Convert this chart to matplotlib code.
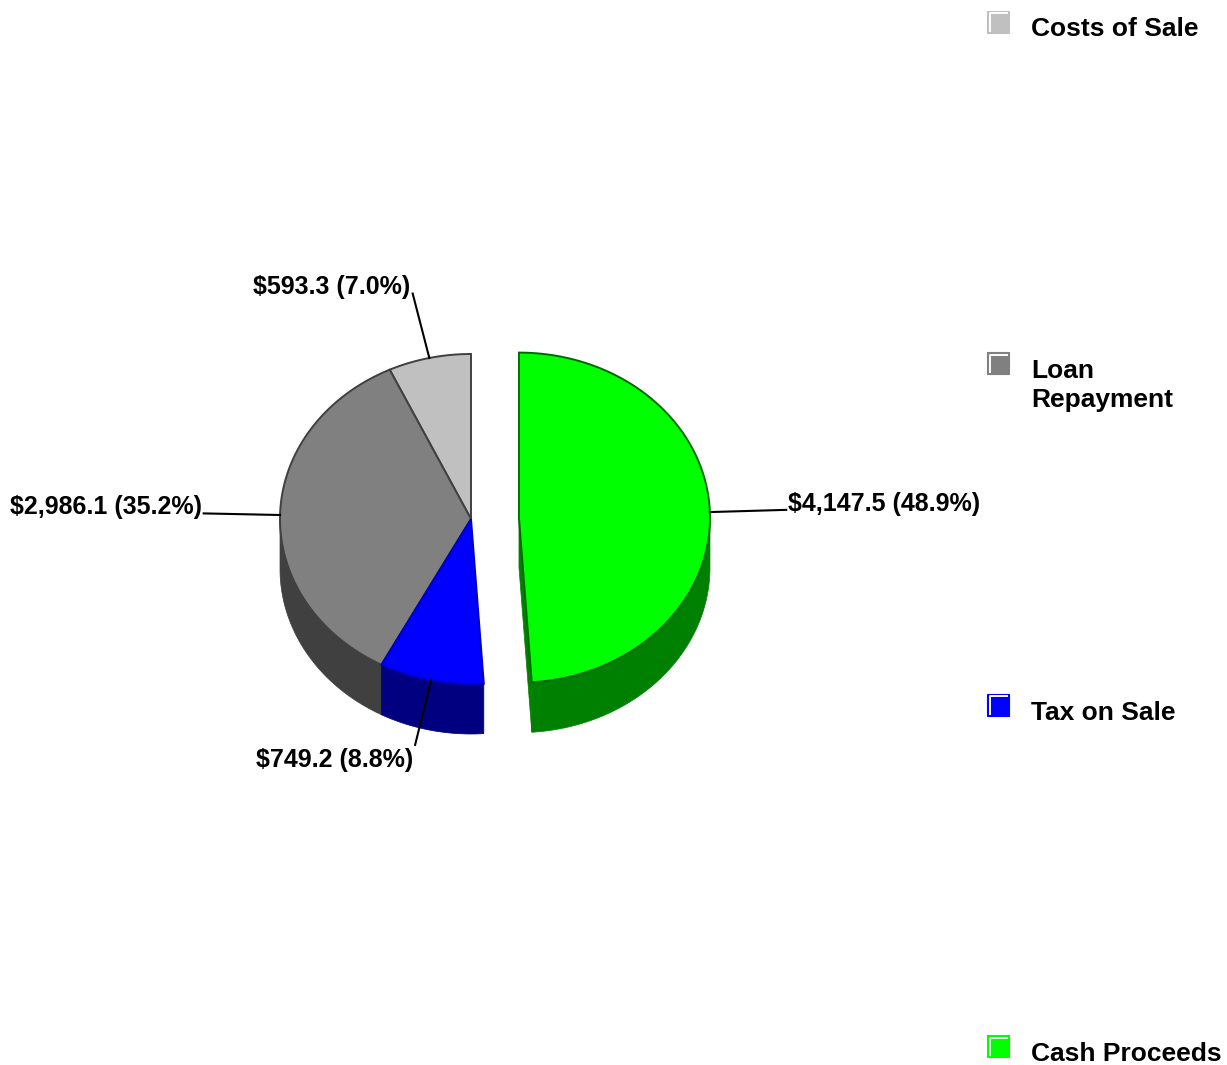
import numpy as np
import matplotlib.pyplot as plt
from matplotlib.patches import Polygon, Rectangle

plt.rcParams['font.family'] = ['Liberation Sans', 'DejaVu Sans']

# slices in legend order, drawn counter-clockwise from 12 o'clock
categories = ["Costs of Sale", "Loan\nRepayment", "Tax on Sale", "Cash Proceeds"]
values = [593.3, 2986.1, 749.2, 4147.5]
top_colors = ["#c0c0c0", "#808080", "#0000ff", "#00ff00"]
side_colors = ["#606060", "#404040", "#000080", "#008000"]
edge_colors = ["#404040", "#404040", "#0000c0", "#006a00"]
explode = [0, 0, 0, 48]

# pie geometry in pixels
cx, cy = 471, 519
rx, ry = 191, 165
depth = 50

total = sum(values)
fracs = [v / total for v in values]

fig = plt.figure(figsize=(12.27, 10.65), dpi=100)
ax = fig.add_axes([0, 0, 1, 1])
ax.set_xlim(0, 1227)
ax.set_ylim(1065, 0)
ax.axis("off")


def pt(x0, y0, a, r=1.0):
    return x0 + r * rx * np.cos(a), y0 - r * ry * np.sin(a)


slices = []
start = 90.0
for i, f in enumerate(fracs):
    end = start + 360 * f
    mid = np.radians((start + end) / 2)
    ox = cx + explode[i] * np.cos(mid)
    oy = cy - explode[i] * (ry / rx) * np.sin(mid)
    slices.append((np.radians(start), np.radians(end), mid, ox, oy))
    start = end

# cut faces of the slices (only the ones facing the viewer)
for i, (a0, a1, mid, ox, oy) in enumerate(slices):
    for a, normal in ((a0, a0 - np.pi / 2), (a1, a1 + np.pi / 2)):
        if np.sin(normal) >= -0.01:
            continue
        ex, ey = pt(ox, oy, a)
        face = [(ox, oy), (ex, ey), (ex, ey + depth), (ox, oy + depth)]
        ax.add_patch(Polygon(face, closed=True, facecolor=side_colors[i],
                             edgecolor=side_colors[i], lw=0.5, zorder=1))

# outer walls on the front half
for i, (a0, a1, mid, ox, oy) in enumerate(slices):
    for lo, hi in ((np.pi, 2 * np.pi), (3 * np.pi, 4 * np.pi)):
        s, e = max(a0, lo), min(a1, hi)
        if e <= s:
            continue
        t = np.linspace(s, e, 120)
        xs, ys = pt(ox, oy, t)
        pts = list(zip(xs, ys)) + list(zip(xs[::-1], ys[::-1] + depth))
        ax.add_patch(Polygon(pts, closed=True, facecolor=side_colors[i],
                             edgecolor=side_colors[i], lw=0.5, zorder=2))

# top faces
for i, (a0, a1, mid, ox, oy) in enumerate(slices):
    t = np.linspace(a0, a1, 200)
    xs, ys = pt(ox, oy, t)
    pts = [(ox, oy)] + list(zip(xs, ys))
    ax.add_patch(Polygon(pts, closed=True, facecolor=top_colors[i],
                         edgecolor=edge_colors[i], lw=1.4, zorder=3))

# value labels with leader lines
for i, (a0, a1, mid, ox, oy) in enumerate(slices):
    x1, y1 = pt(ox, oy, mid)
    x2, y2 = pt(ox, oy, mid, 1.4)
    ax.plot([x1, x2], [y1, y2], color="black", lw=1.5, zorder=4)
    c, s = np.cos(mid), np.sin(mid)
    ha = "left" if c > 0 else "right"
    if s > 0.5:
        va, dy = "bottom", 5
    elif s < -0.5:
        va, dy = "top", 3
    else:
        va, dy = "baseline", 1
    tx = x2 + (2 if c > 0 else -2)
    label = f"${values[i]:,.1f} ({100 * fracs[i]:.1f}%)"
    ax.text(tx, y2 + dy, label, ha=ha, va=va, fontsize=18,
            fontweight="bold", color="black", zorder=5)

# legend down the right edge
leg_y = np.linspace(21.5, 1046, len(categories))
for i, name in enumerate(categories):
    yc = leg_y[i]
    ax.add_patch(Rectangle((987, yc - 11), 22, 22, facecolor=top_colors[i],
                           edgecolor=top_colors[i], lw=0.8, zorder=3))
    ax.plot([989.5, 989.5, 1006.5], [yc + 9, yc - 8.5, yc - 8.5],
            color="white", lw=1.4, zorder=4)
    ax.text(1031, yc - 4, name, ha="left", va="top", fontsize=19,
            fontweight="bold", color="black", linespacing=1.25)

fig.savefig("out.png", dpi=100)
